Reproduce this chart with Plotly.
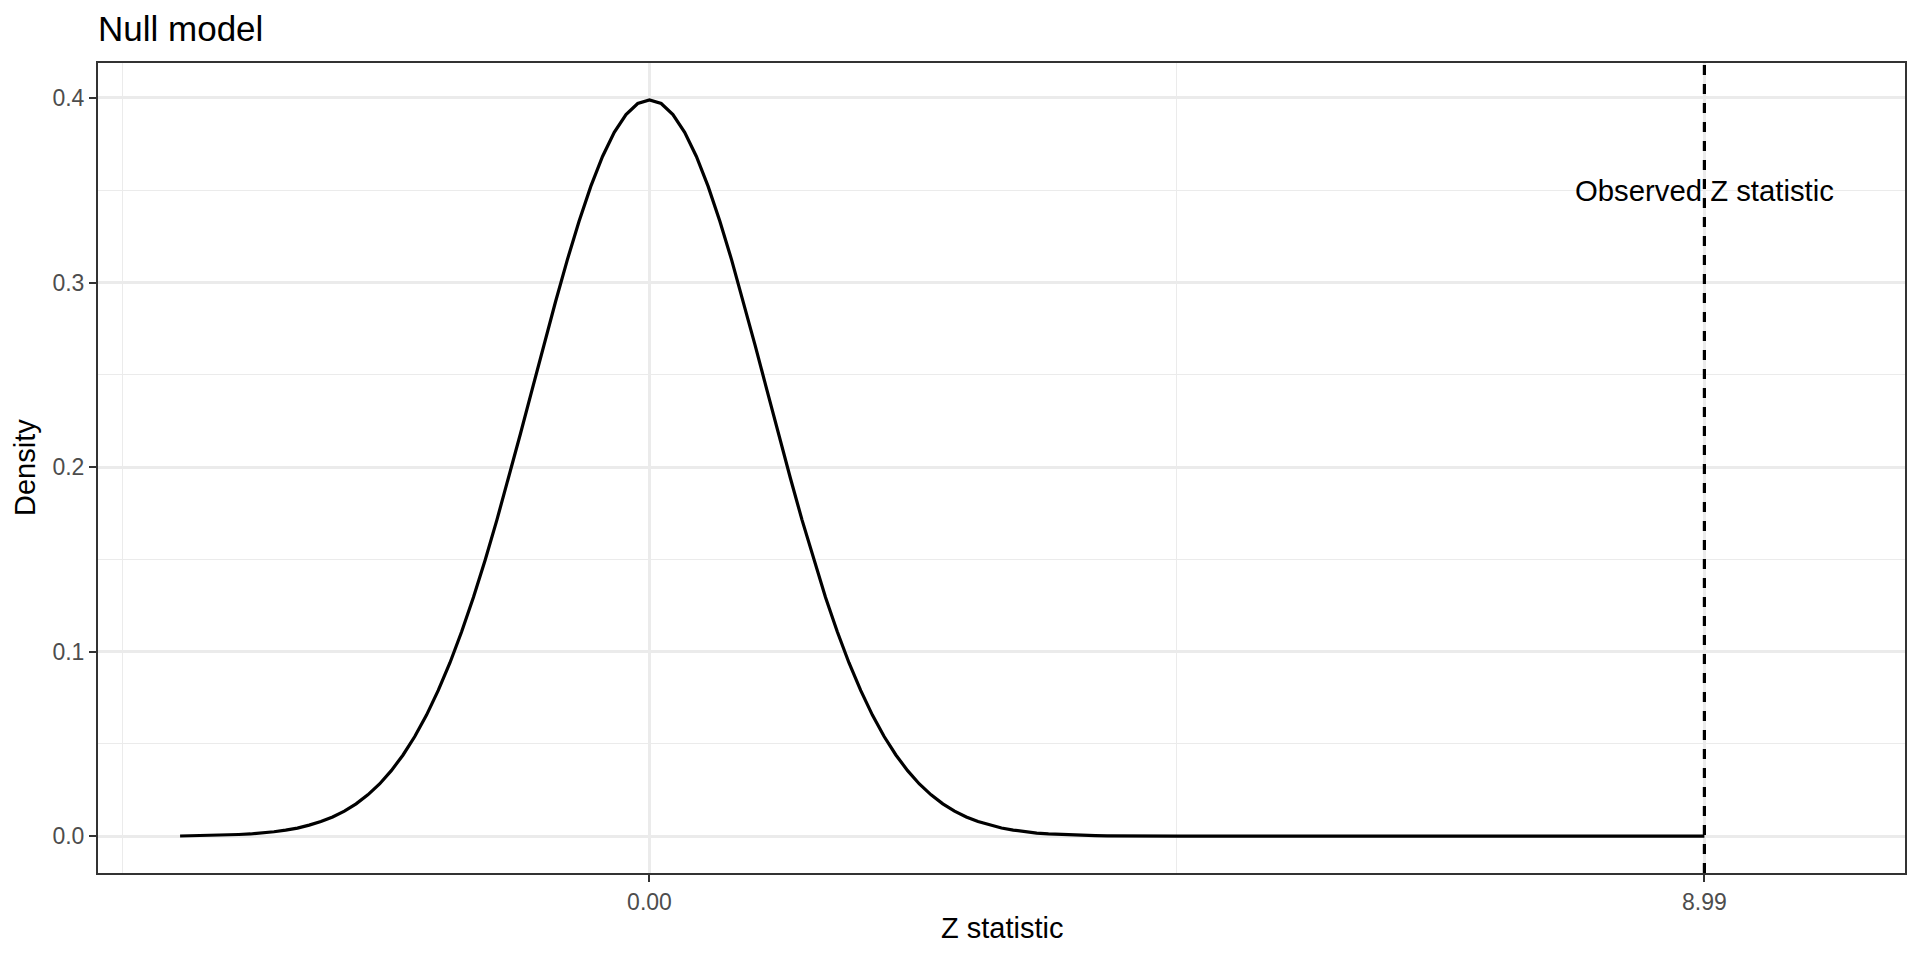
import plotly.graph_objects as go

# Null distribution density
z_values = [-4.0, -3.9, -3.8, -3.7, -3.6, -3.5, -3.4, -3.3, -3.2, -3.1,
            -3.0, -2.9, -2.8, -2.7, -2.6, -2.5, -2.4, -2.3, -2.2, -2.1,
            -2.0, -1.9, -1.8, -1.7, -1.6, -1.5, -1.4, -1.3, -1.2, -1.1,
            -1.0, -0.9, -0.8, -0.7, -0.6, -0.5, -0.4, -0.3, -0.2, -0.1,
            0.0, 0.1, 0.2, 0.3, 0.4, 0.5, 0.6, 0.7, 0.8, 0.9,
            1.0, 1.1, 1.2, 1.3, 1.4, 1.5, 1.6, 1.7, 1.8, 1.9,
            2.0, 2.1, 2.2, 2.3, 2.4, 2.5, 2.6, 2.7, 2.8, 2.9,
            3.0, 3.1, 3.2, 3.3, 3.4, 3.5, 3.6, 3.7, 3.8, 3.9,
            4.0, 4.5, 5.0, 6.0, 7.0, 8.0, 8.99]
density = [0.0001, 0.0002, 0.0003, 0.0004, 0.0006, 0.0009, 0.0012, 0.0017, 0.0024, 0.0033,
           0.0044, 0.0060, 0.0079, 0.0104, 0.0136, 0.0175, 0.0224, 0.0283, 0.0355, 0.0440,
           0.0540, 0.0656, 0.0790, 0.0940, 0.1109, 0.1295, 0.1497, 0.1714, 0.1942, 0.2179,
           0.2420, 0.2661, 0.2897, 0.3123, 0.3332, 0.3521, 0.3683, 0.3814, 0.3910, 0.3970,
           0.3989, 0.3970, 0.3910, 0.3814, 0.3683, 0.3521, 0.3332, 0.3123, 0.2897, 0.2661,
           0.2420, 0.2179, 0.1942, 0.1714, 0.1497, 0.1295, 0.1109, 0.0940, 0.0790, 0.0656,
           0.0540, 0.0440, 0.0355, 0.0283, 0.0224, 0.0175, 0.0136, 0.0104, 0.0079, 0.0060,
           0.0044, 0.0033, 0.0024, 0.0017, 0.0012, 0.0009, 0.0006, 0.0004, 0.0003, 0.0002,
           0.0001, 0.0000, 0.0000, 0.0000, 0.0000, 0.0000, 0.0000]

observed_z = 8.99
observed_label = "Observed Z statistic"
label_y = 0.35

x_tickvals = [0.0, 8.99]
x_ticktext = ["0.00", "8.99"]
x_minor = [-4.495, 4.495]
y_tickvals = [0.0, 0.1, 0.2, 0.3, 0.4]
y_ticktext = ["0.0", "0.1", "0.2", "0.3", "0.4"]
y_minor = [0.05, 0.15, 0.25, 0.35]

x_range = [-4.6995, 10.6995]
y_range = [-0.01995, 0.41895]

FONT = "Liberation Sans, Arial, Helvetica, sans-serif"

# figure sits at an 8px page margin; sized to fit the window exactly
W, H = 1912, 952
L, R, T, B = 90, 15, 55, 87
ph = H - T - B
pw = W - L - R

fig = go.Figure()
fig.add_trace(go.Scatter(x=z_values, y=density, mode="lines",
                         line=dict(color="black", width=3.2), showlegend=False,
                         hoverinfo="skip"))
fig.add_trace(go.Scatter(x=[observed_z, observed_z], y=y_range, mode="lines",
                         line=dict(color="black", width=3.2, dash="10px,9px"),
                         showlegend=False, hoverinfo="skip"))

fig.add_annotation(x=observed_z, y=label_y, xref="x", yref="y",
                   text=observed_label, showarrow=False,
                   xanchor="center", yanchor="middle",
                   font=dict(family=FONT, size=29.3, color="black"))

# title
fig.add_annotation(x=0, xref="paper", xanchor="left", xshift=-2,
                   y=1 + (T - 20) / ph, yref="paper", yanchor="middle",
                   text="Null model", showarrow=False,
                   font=dict(family=FONT, size=35, color="black"))
# axis titles
fig.add_annotation(x=0.5, xref="paper", xanchor="center",
                   y=-(920 - (H - B)) / ph, yref="paper", yanchor="middle",
                   text="Z statistic", showarrow=False,
                   font=dict(family=FONT, size=29, color="black"))
fig.add_annotation(x=-(L - 17) / pw, xref="paper", xanchor="center",
                   y=0.5, yref="paper", yanchor="middle", textangle=-90,
                   text="Density", showarrow=False,
                   font=dict(family=FONT, size=29, color="black"))

fig.update_layout(
    width=W, height=H,
    paper_bgcolor="white", plot_bgcolor="white",
    margin=dict(l=L, r=R, t=T, b=B, autoexpand=False),
    font=dict(family=FONT),
)
fig.update_xaxes(
    range=x_range, tickmode="array", tickvals=x_tickvals, ticktext=x_ticktext,
    showgrid=True, gridcolor="#EBEBEB", gridwidth=2.7, zeroline=False,
    ticks="outside", ticklen=7, tickwidth=2, tickcolor="#333333",
    tickfont=dict(family=FONT, size=23, color="#4D4D4D"),
    minor=dict(tickmode="array", tickvals=x_minor, showgrid=True,
               gridcolor="#EBEBEB", gridwidth=1.4, ticks=""),
    showline=True, linecolor="#333333", linewidth=2, mirror=True,
    automargin=False,
)
fig.update_yaxes(
    range=y_range, tickmode="array", tickvals=y_tickvals, ticktext=y_ticktext,
    showgrid=True, gridcolor="#EBEBEB", gridwidth=2.7, zeroline=False,
    ticks="outside", ticklen=7, tickwidth=2, tickcolor="#333333",
    tickfont=dict(family=FONT, size=23, color="#4D4D4D"),
    minor=dict(tickmode="array", tickvals=y_minor, showgrid=True,
               gridcolor="#EBEBEB", gridwidth=1.4, ticks=""),
    showline=True, linecolor="#333333", linewidth=2, mirror=True,
    automargin=False,
)

fig.write_html("out.html")
